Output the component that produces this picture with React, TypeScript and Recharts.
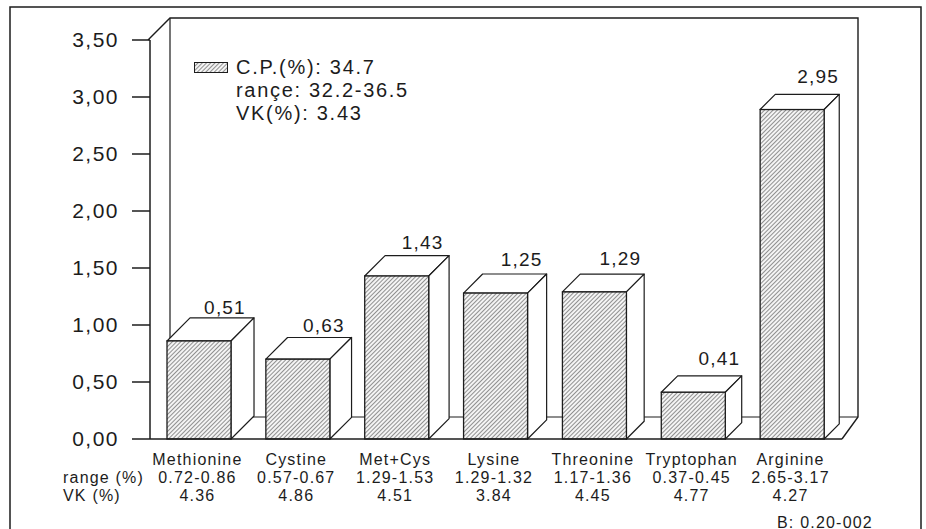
import React from 'react';
import { BarChart, Bar, XAxis, YAxis, LabelList } from 'recharts';

// amino acid contents (bar heights) and printed labels
const categories = ['Methionine', 'Cystine', 'Met+Cys', 'Lysine', 'Threonine', 'Tryptophan', 'Arginine'];
const barValues = [0.86, 0.7, 1.43, 1.28, 1.29, 0.41, 2.89];
const valueLabels = ['0,51', '0,63', '1,43', '1,25', '1,29', '0,41', '2,95'];
const rangeLabels = ['0.72-0.86', '0.57-0.67', '1.29-1.53', '1.29-1.32', '1.17-1.36', '0.37-0.45', '2.65-3.17'];
const vkLabels = ['4.36', '4.86', '4.51', '3.84', '4.45', '4.77', '4.27'];
const yTicks = [0, 0.5, 1, 1.5, 2, 2.5, 3, 3.5];
const legendLines = ['C.P.(%): 34.7', 'rançe: 32.2-36.5', 'VK(%): 3.43'];
const rowTitles = ['range (%)', 'VK (%)'];
const footnote = 'B: 0.20-002';

const data = categories.map((name, i) => ({
  name,
  value: barValues[i],
  label: valueLabels[i],
  range: rangeLabels[i],
  vk: vkLabels[i],
}));

const W = 926;
const H = 529;
const LEFT = 150;
const TOP = 40;
const RIGHT = 842;
const BOTTOM = 439;
const FONT = '"Liberation Sans", Arial, Helvetica, sans-serif';
const INK = '#1c1c1c';

// the original is drawn in slight perspective: depth shrinks to the right
const depthAt = (x: number) => 23 - ((x - 168) / 600) * 8;

function Bar3D(props: any) {
  const { x, y, width, height } = props;
  if (height == null || width == null) return null;
  const d = depthAt(x);
  return (
    <g>
      <polygon
        points={`${x},${y} ${x + d},${y - d} ${x + width + d},${y - d} ${x + width},${y}`}
        fill="#fff"
        stroke={INK}
        strokeWidth={1.2}
        strokeLinejoin="round"
      />
      <polygon
        points={`${x + width},${y} ${x + width + d},${y - d} ${x + width + d},${y + height - d} ${x + width},${y + height}`}
        fill="#fff"
        stroke={INK}
        strokeWidth={1.2}
        strokeLinejoin="round"
      />
      <rect x={x} y={y} width={width} height={height} fill="url(#hatch)" stroke={INK} strokeWidth={1.3} />
    </g>
  );
}

function ValueLabel(props: any) {
  const { x, y, width, index } = props;
  return (
    <text
      x={x + width / 2 + 26}
      y={y - 27}
      textAnchor="middle"
      fontFamily={FONT}
      fontSize={19}
      letterSpacing={1.2}
      fill={INK}
    >
      {valueLabels[index]}
    </text>
  );
}

function CategoryTick(props: any) {
  const { x, index } = props;
  const lines = [categories[index], rangeLabels[index], vkLabels[index]];
  return (
    <g>
      {lines.map((t, i) => (
        <text
          key={i}
          x={x - 2}
          y={BOTTOM + 20 + i * 18}
          textAnchor="middle"
          dominantBaseline="central"
          fontFamily={FONT}
          fontSize={16}
          letterSpacing={1.2}
          fill={INK}
        >
          {t}
        </text>
      ))}
    </g>
  );
}

export default function App() {
  const backL = LEFT + 20;
  const backR = 858;
  const backT = TOP - 22;
  const backB = BOTTOM - 22;
  return (
    <div style={{ position: 'absolute', left: 0, top: 0, width: W, height: H, background: '#fff' }}>
      <svg width={W} height={H} style={{ position: 'absolute', left: 0, top: 0 }}>
        <defs>
          <pattern id="hatch" patternUnits="userSpaceOnUse" width={3} height={3} patternTransform="rotate(45)">
            <rect width={3} height={3} fill="#f4f4f4" />
            <line x1={0} y1={0} x2={0} y2={3} stroke="#3c3c3c" strokeWidth={1.1} />
          </pattern>
        </defs>
        {/* outer frame */}
        <path d={`M10,${H} L10,7 L921,7 L921,${H}`} fill="none" stroke={INK} strokeWidth={1.5} />
        {/* 3D back wall and floor */}
        <path
          d={`M${LEFT - 2},${TOP} L${backL},${backT} L${backR},${backT} L${backR},${backB} L${RIGHT},${BOTTOM}`}
          fill="none"
          stroke={INK}
          strokeWidth={1.4}
        />
        <path d={`M${backL},${backT} L${backL},${backB} L${backR},${backB}`} fill="none" stroke={INK} strokeWidth={1.2} />
        {rowTitles.map((t, i) => (
          <text
            key={t}
            x={63}
            y={BOTTOM + 38 + i * 18}
            dominantBaseline="central"
            fontFamily={FONT}
            fontSize={16}
            letterSpacing={1.2}
            fill={INK}
          >
            {t}
          </text>
        ))}
        <text x={777} y={522} dominantBaseline="central" fontFamily={FONT} fontSize={16} letterSpacing={1.2} fill={INK}>
          {footnote}
        </text>
      </svg>

      <div style={{ position: 'absolute', left: 0, top: 0 }}>
        <BarChart
          width={W}
          height={H}
          data={data}
          margin={{ top: TOP, right: W - RIGHT, bottom: 0, left: 0 }}
          barSize={64}
        >
          <XAxis
            dataKey="name"
            height={H - BOTTOM}
            interval={0}
            tickLine={false}
            axisLine={{ stroke: INK, strokeWidth: 1.5 }}
            tick={<CategoryTick />}
          />
          <YAxis
            width={LEFT}
            domain={[0, 3.5]}
            ticks={yTicks}
            interval={0}
            tickSize={18}
            tickMargin={13}
            axisLine={{ stroke: INK, strokeWidth: 1.5 }}
            tickLine={{ stroke: INK, strokeWidth: 1.5 }}
            tick={{ fill: INK, fontSize: 21, fontFamily: FONT, letterSpacing: 1.5 }}
            tickFormatter={(v: number) => v.toFixed(2).replace('.', ',')}
          />
          <Bar dataKey="value" shape={<Bar3D />} isAnimationActive={false}>
            <LabelList dataKey="label" content={<ValueLabel />} />
          </Bar>
        </BarChart>
      </div>

      {/* legend */}
      <div
        style={{
          position: 'absolute',
          left: 194,
          top: 56,
          fontFamily: FONT,
          fontSize: 20,
          letterSpacing: 1.7,
          lineHeight: '23px',
          color: INK,
          whiteSpace: 'nowrap',
        }}
      >
        <svg width={34} height={11} style={{ position: 'absolute', left: 0, top: 6 }}>
          <rect x={0.5} y={0.5} width={33} height={10} fill="url(#hatch)" stroke={INK} strokeWidth={1} />
        </svg>
        <div style={{ marginLeft: 42 }}>
          {legendLines.map((l) => (
            <div key={l}>{l}</div>
          ))}
        </div>
      </div>
    </div>
  );
}
